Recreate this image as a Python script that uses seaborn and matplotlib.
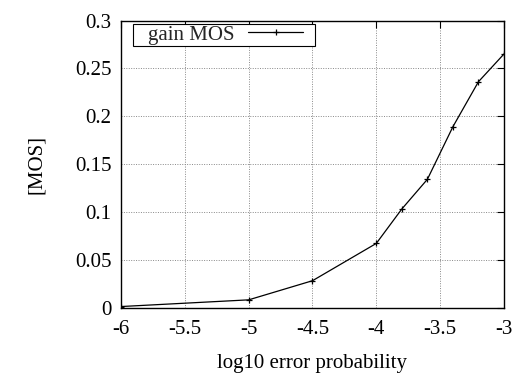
import matplotlib
matplotlib.use("Agg")
import matplotlib.pyplot as plt
from matplotlib.patches import Rectangle
import seaborn as sns
import pandas as pd

log_err = [-6.0, -5.0, -4.5, -4.0, -3.8, -3.6, -3.4, -3.2, -3.0]
gain_mos = [0.001, 0.008, 0.028, 0.067, 0.103, 0.134, 0.189, 0.236, 0.265]
x_ticks = [-6, -5.5, -5, -4.5, -4, -3.5, -3]
x_tick_labels = ["-6", "-5.5", "-5", "-4.5", "-4", "-3.5", "-3"]
y_ticks = [0, 0.05, 0.1, 0.15, 0.2, 0.25, 0.3]
y_tick_labels = ["0", "0.05", "0.1", "0.15", "0.2", "0.25", "0.3"]

df = pd.DataFrame({"x": log_err, "y": gain_mos})

sns.set_theme(style="white")
plt.rcParams['font.family'] = ['Liberation Serif', 'DejaVu Serif']

W, H = 516, 373
fig = plt.figure(figsize=(W / 100, H / 100), dpi=100)
ax = fig.add_axes([0.2345, 0.1756, 0.7422, 0.7694])

sns.lineplot(data=df, x="x", y="y", ax=ax, color="black", linewidth=0.9,
             marker="+", markersize=5, markeredgewidth=0.9,
             markeredgecolor="black", markerfacecolor="black", label="gain MOS")

ax.set_xlim(-6, -3)
ax.set_ylim(0, 0.3)
ax.set_xticks(x_ticks)
ax.set_xticklabels(x_tick_labels)
ax.set_yticks(y_ticks)
ax.set_yticklabels(y_tick_labels)
ax.tick_params(axis="both", direction="in", length=5, width=0.8, top=True, right=True,
               labelsize=15, colors="black")
ax.tick_params(axis="x", pad=9)
ax.tick_params(axis="y", pad=7)
ax.grid(True, linestyle=(0, (1, 1.5)), color="#888888", linewidth=0.7)
for s in ax.spines.values():
    s.set_color("black")
    s.set_linewidth(1.0)
ax.set_xlabel("log10 error probability", fontsize=15, color="black", labelpad=11)
ax.set_ylabel("[MOS]", fontsize=15, color="black", labelpad=21)

# legend: text first, then line sample (gnuplot style)
leg = ax.legend(loc="center left", bbox_to_anchor=(148 / W, 1 - 34.8 / H),
                bbox_transform=fig.transFigure, markerfirst=False,
                fontsize=15, frameon=False, borderpad=0.0, handlelength=2.64,
                handletextpad=0.67, borderaxespad=0.0)

# draw a frame around the legend with gnuplot-like asymmetric padding
fig.canvas.draw()
bb = leg.get_window_extent()
cy = (bb.y0 + bb.y1) / 2
box_h = 21.7
frame = Rectangle(((bb.x0 - 15) / W, (cy - box_h / 2) / H),
                  (bb.width + 27) / W, box_h / H, transform=fig.transFigure,
                  facecolor="white", edgecolor="black", linewidth=0.8, zorder=4)
fig.add_artist(frame)
leg.remove()
fig.add_artist(leg)
leg.set_zorder(5)

fig.savefig("out.png", dpi=100)
